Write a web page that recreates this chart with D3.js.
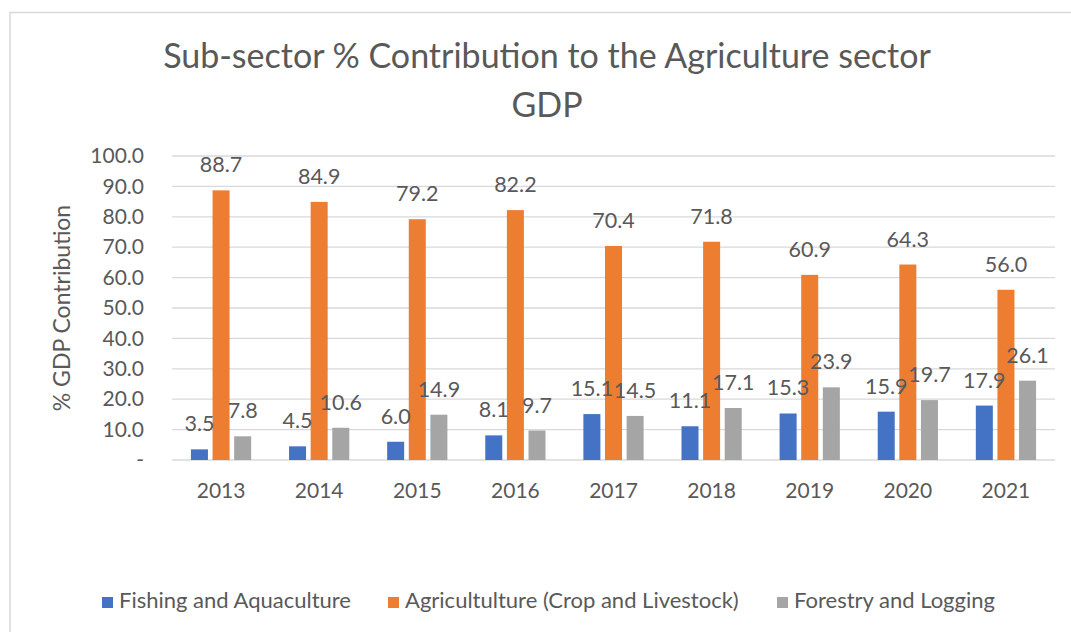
<!DOCTYPE html>
<html>
<head>
<meta charset="utf-8">
<script src="https://cdn.jsdelivr.net/npm/d3@7"></script>
<style>
  body { margin: 0; background: #fff; }
  text { font-family: Lato, "Open Sans", sans-serif; fill: #595959; }
</style>
</head>
<body>
<div id="chart"></div>
<script>
// chart data
const years = ['2013', '2014', '2015', '2016', '2017', '2018', '2019', '2020', '2021']
const seriesNames = ['Fishing and Aquaculture', 'Agricultulture (Crop and Livestock)', 'Forestry and Logging']
const fishing = [3.5, 4.5, 6.0, 8.1, 15.1, 11.1, 15.3, 15.9, 17.9]
const agriculture = [88.7, 84.9, 79.2, 82.2, 70.4, 71.8, 60.9, 64.3, 56.0]
const forestry = [7.8, 10.6, 14.9, 9.7, 14.5, 17.1, 23.9, 19.7, 26.1]
const yTicks = [0, 10, 20, 30, 40, 50, 60, 70, 80, 90, 100]
const colors = ['#4472C4', '#ED7D31', '#A5A5A5']

const width = 1071
const height = 632
const plot = { left: 172, right: 1055, top: 156, bottom: 460 }

const svg = d3.select('#chart')
    .append('svg')
    .attr('width', width)
    .attr('height', height)

// outer chart border
svg.append('rect')
    .attr('x', 10)
    .attr('y', 12.5)
    .attr('width', width + 20)
    .attr('height', height + 20)
    .style('fill', '#fff')
    .style('stroke', '#d9d9d9')
    .style('stroke-width', 1.5)

// title
const title = svg.append('text')
    .attr('text-anchor', 'middle')
    .style('font-size', '34px')
title.append('tspan').attr('x', 547).attr('y', 68).text('Sub-sector % Contribution to the Agriculture sector')
title.append('tspan').attr('x', 547).attr('y', 117).text('GDP')

const x0 = d3.scaleBand()
    .domain(years)
    .range([plot.left, plot.right])
    .paddingInner(0.386)
    .paddingOuter(0.193)

const x1 = d3.scaleBand()
    .domain(seriesNames)
    .range([0, x0.bandwidth()])
    .paddingInner(0.213)

const y = d3.scaleLinear()
    .domain([0, 100])
    .range([plot.bottom, plot.top])

// gridlines
svg.append('g')
    .selectAll('line')
    .data(yTicks)
    .enter()
    .append('line')
    .attr('x1', plot.left)
    .attr('x2', plot.right)
    .attr('y1', d => y(d))
    .attr('y2', d => y(d))
    .style('stroke', '#d9d9d9')
    .style('stroke-width', 1.3)

// y axis labels
const yAxis = d3.axisLeft(y)
    .tickValues(yTicks)
    .tickSize(0)
    .tickPadding(0)
    .tickFormat(d => d === 0 ? '-' : d3.format('.1f')(d))

svg.append('g')
    .attr('transform', `translate(${plot.left - 28},0)`)
    .call(yAxis)
    .call(g => g.select('.domain').remove())
    .selectAll('text')
    .style('font-size', '21px')
    .style('font-family', 'Lato, sans-serif')
    .style('fill', '#595959')

// x axis labels
const xAxis = d3.axisBottom(x0).tickSize(0).tickPadding(0)
svg.append('g')
    .attr('transform', `translate(0,${plot.bottom + 23})`)
    .call(xAxis)
    .call(g => g.select('.domain').remove())
    .selectAll('text')
    .style('font-size', '21px')
    .style('font-family', 'Lato, sans-serif')
    .style('fill', '#595959')

// y axis title
svg.append('text')
    .attr('transform', `translate(70,${(plot.top + plot.bottom) / 2}) rotate(-90)`)
    .attr('text-anchor', 'middle')
    .style('font-size', '23px')
    .text('% GDP Contribution')

// bars
const allSeries = [fishing, agriculture, forestry]
const rows = []
years.forEach((yr, i) => {
    seriesNames.forEach((s, j) => {
        rows.push({ year: yr, series: s, idx: j, value: allSeries[j][i] })
    })
})

svg.append('g')
    .selectAll('rect')
    .data(rows)
    .enter()
    .append('rect')
    .attr('x', d => x0(d.year) + x1(d.series))
    .attr('y', d => y(d.value))
    .attr('width', x1.bandwidth())
    .attr('height', d => plot.bottom - y(d.value))
    .style('fill', d => colors[d.idx])

// data labels
svg.append('g')
    .selectAll('text')
    .data(rows)
    .enter()
    .append('text')
    .attr('x', d => x0(d.year) + x1(d.series) + x1.bandwidth() / 2)
    .attr('y', d => y(d.value) - 18)
    .attr('text-anchor', 'middle')
    .style('font-size', '21.5px')
    .text(d => d.value.toFixed(1))

// legend
const legendX = [102, 388, 777]
const legend = svg.append('g')
    .selectAll('g')
    .data(seriesNames)
    .enter()
    .append('g')
    .attr('transform', (d, i) => `translate(${legendX[i]},597)`)

legend.append('rect')
    .attr('width', 11)
    .attr('height', 11)
    .style('fill', (d, i) => colors[i])

legend.append('text')
    .attr('x', 17)
    .attr('y', 11)
    .style('font-size', '22px')
    .text(d => d)
</script>
</body>
</html>
